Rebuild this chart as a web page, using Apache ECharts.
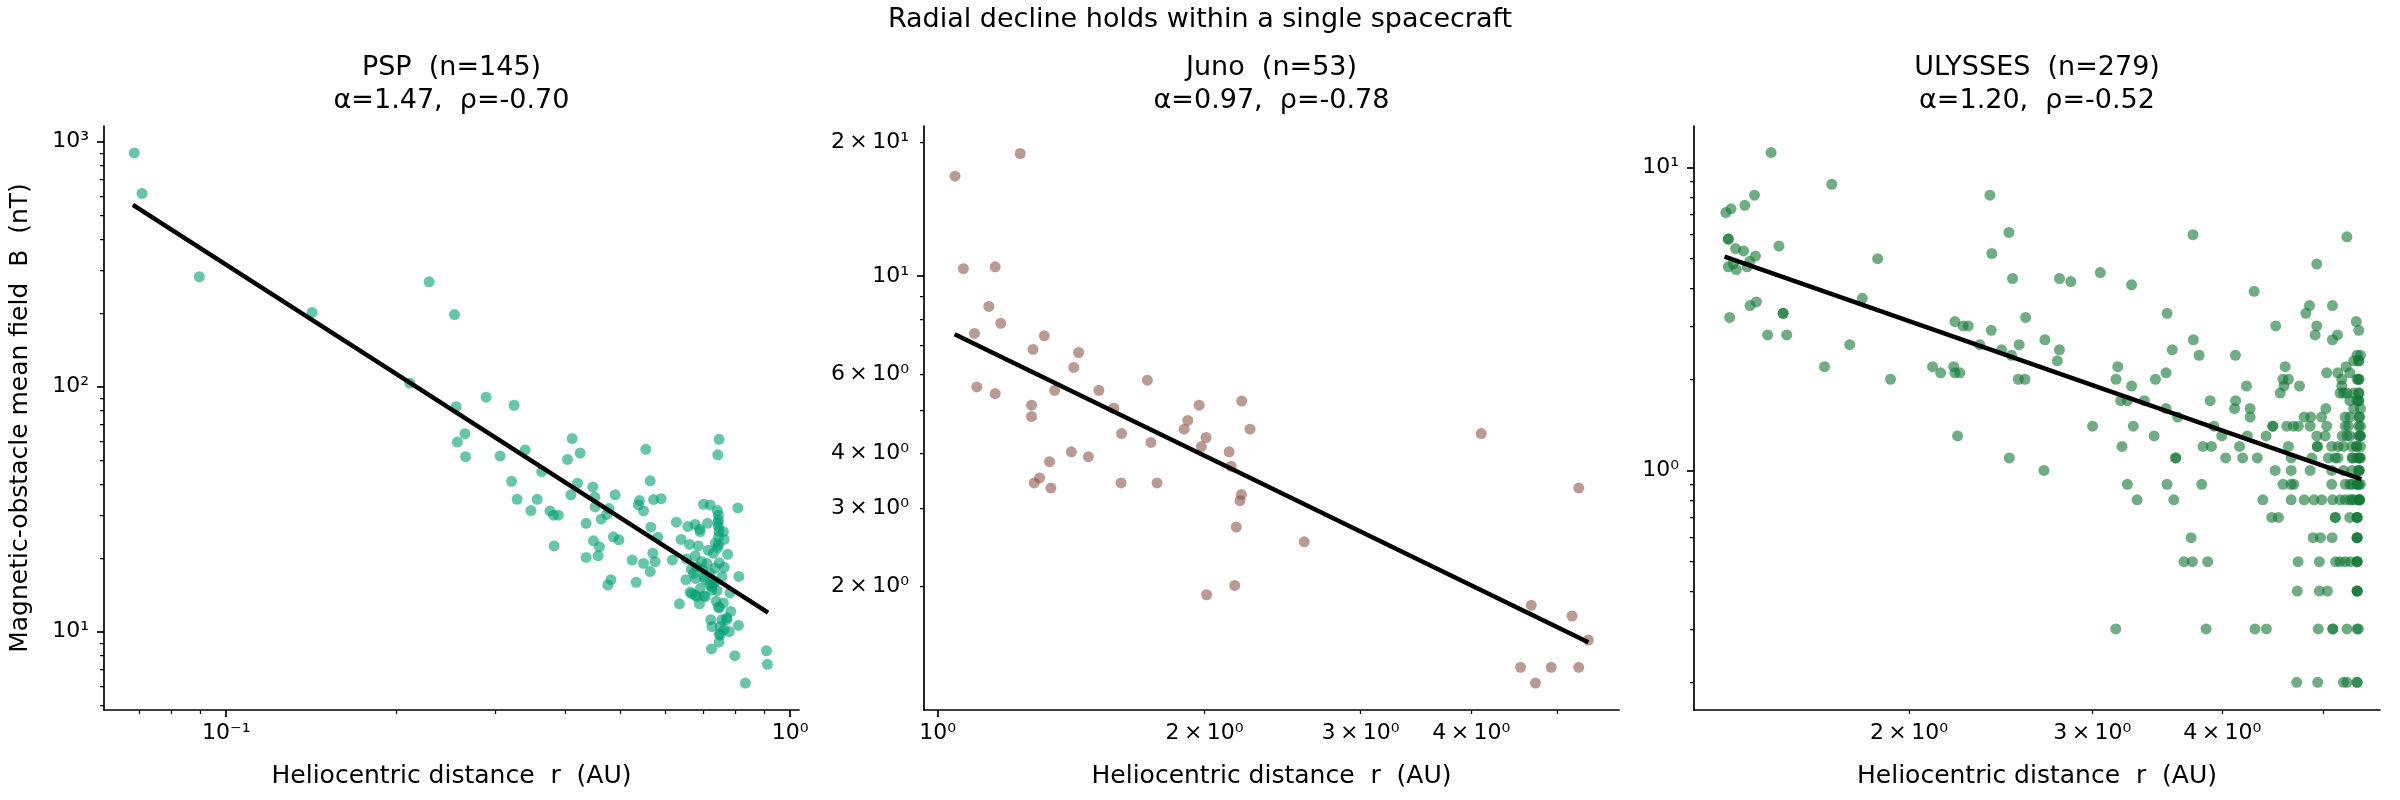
<!DOCTYPE html>
<html>
<head>
<meta charset="utf-8">
<script src="https://cdn.jsdelivr.net/npm/echarts@6/dist/echarts.min.js"></script>
<style>
  html, body { margin: 0; background: #fff; }
  #chart { width: 2400px; height: 800px; }
</style>
</head>
<body>
<div id="chart"></div>
<script>
// Radial decline of the magnetic-obstacle field, one log-log panel per spacecraft.
var SUPTITLE = "Radial decline holds within a single spacecraft";
var X_NAME = "Heliocentric distance  r  (AU)";
var Y_NAME = "Magnetic-obstacle mean field  B  (nT)";
var PANEL_NAMES = ["PSP  (n=145)", "Juno  (n=53)", "ULYSSES  (n=279)"];
var PANEL_STATS = ["\u03b1=1.47,  \u03c1=-0.70", "\u03b1=0.97,  \u03c1=-0.78", "\u03b1=1.20,  \u03c1=-0.52"];
var COLORS = ["#009e73", "#8c564b", "#117733"];

// [r (AU), B (nT)]
var pspPoints = [
  [0.0687,900],[0.0709,615],[0.0896,281],[0.142,201],[0.229,268],[0.254,197],[0.2117,103.5],[0.289,90.6],
  [0.2557,82.9],[0.324,84],[0.265,64.3],[0.257,59.4],[0.2657,51.8],[0.306,52.1],[0.339,55.2],[0.3627,45.0],
  [0.3207,41.1],[0.328,34.7],[0.356,34.7],[0.347,31.2],[0.375,31.1],[0.3806,29.9],[0.388,29.9],[0.3816,22.4],
  [0.4107,61.4],[0.4243,53.6],[0.403,50.5],[0.4197,40.4],[0.4085,36.2],[0.4468,39.0],[0.4504,35.4],[0.451,32.3],
  [0.4772,31.8],[0.473,30.1],[0.4624,28.8],[0.4348,27.7],[0.4895,36.2],[0.448,23.5],[0.459,22.2],[0.4348,20.1],
  [0.4566,20.4],[0.486,24.4],[0.497,23.7],[0.481,16.3],[0.475,15.5],
  [0.5333,15.9],[0.5246,19.6],[0.5495,19.0],[0.5648,17.6],[0.5762,19.3],[0.5709,20.9],[0.5547,55.5],[0.5648,41.3],
  [0.5405,34.3],[0.5383,32.9],[0.5495,31.1],[0.5725,34.6],[0.5904,34.9],[0.5662,26.7],[0.5824,24.3],
  [0.6183,19.6],[0.6285,28.0],[0.6408,23.8],[0.6364,13.0],[0.6533,16.3],[0.6586,26.9],[0.6631,22.7],[0.6786,27.4],
  [0.6877,22.4],[0.6786,20.4],[0.7021,33.1],[0.7214,32.9],[0.743,31.2],[0.7482,61.0],[0.7442,52.7],[0.8078,32.0],
  [0.7136,27.7],[0.7463,28.6],[0.7463,26.9],[0.7617,25.6],[0.7463,24.4],[0.764,23.8],[0.7463,22.6],[0.6925,25.6],
  [0.775,20.7],[0.731,20.9],[0.697,19.3],[0.749,19.1],[0.764,18.3],[0.736,18.2],[0.7214,17.3],[0.674,17.3],
  [0.683,18.4],[0.8112,16.8],[0.7068,16.3],[0.731,15.8],[0.6925,15.0],[0.6647,14.5],[0.679,14.1],[0.707,13.9],
  [0.7266,14.8],[0.7824,14.4],[0.6907,13.0],[0.7393,13.3],[0.7617,13.1],[0.749,12.5],[0.7847,12.1],[0.7233,11.2],
  [0.757,11.2],[0.7724,11.4],[0.7266,10.5],[0.7516,10.5],[0.8097,10.6],[0.78,10.0],[0.7516,9.69],[0.7482,9.06],
  [0.7254,8.50],[0.798,7.98],[0.908,8.36],[0.9116,7.36],[0.8333,6.17],
  [0.6913,26.2],[0.7037,16.8],[0.712,19.0],[0.7266,15.3],[0.7464,12.6],[0.7638,10.2],[0.749,9.8],[0.772,11.2],
  [0.683,13.9],[0.669,14.3],[0.746,29.9],[0.748,25.7],[0.744,22.0],[0.7442,27.8],
  [0.655,19.8],[0.668,18.0],[0.70,17.9],[0.736,16.0],[0.72,15.6],[0.742,14.7],[0.703,14.0],[0.68,16.5],
  [0.757,16.8],[0.716,21.5],[0.737,23.0]
];

var junoPoints = [
  [1.046,16.8],[1.239,18.9],[1.069,10.4],[1.161,10.5],[1.142,8.55],[1.178,7.83],[1.100,7.43],[1.319,7.34],
  [1.281,6.84],[1.442,6.73],[1.424,6.23],[1.724,5.83],[1.107,5.63],[1.161,5.44],[1.355,5.53],[1.520,5.53],
  [1.276,5.12],[1.276,4.83],[1.580,5.04],[1.972,5.12],[2.203,5.23],[1.915,4.73],[1.897,4.52],[2.251,4.52],
  [1.612,4.42],[2.008,4.33],[1.740,4.22],[1.984,4.13],[1.415,4.02],[2.132,4.02],[1.479,3.92],[1.337,3.82],
  [2.143,3.73],[1.303,3.51],[1.285,3.42],[1.342,3.33],[1.610,3.42],[1.768,3.42],[2.201,3.22],[2.193,3.12],
  [2.172,2.72],[2.591,2.52],[2.163,2.01],[2.011,1.915],[4.104,4.42],[5.287,3.33],[4.674,1.813],[5.196,1.715],
  [5.42,1.514],[4.546,1.314],[4.922,1.314],[5.287,1.314],[4.725,1.211]
];

var ulyssesPoints = [
  [1.474,11.2],[1.686,8.8],[1.421,8.1],[1.391,7.5],[1.349,7.3],[1.334,7.1],[1.341,5.8],[1.341,5.8],
  [1.500,5.5],[1.363,5.4],[1.387,5.3],[1.424,5.1],[1.406,4.9],[1.341,4.7],[1.365,4.6],[1.355,4.8],
  [1.398,4.7],[1.866,5.0],[1.804,3.7],[1.407,3.5],[1.427,3.6],[1.345,3.2],[1.514,3.3],[1.514,3.3],
  [1.463,2.8],[1.526,2.8],[1.754,2.6],[1.659,2.2],[1.920,2.0],[2.107,2.2],[2.145,2.1],[2.208,2.2],
  [2.214,2.1],[2.238,2.1],[2.214,3.1],[2.254,3.0],[2.280,3.0],[2.339,2.6],[2.455,2.5],[2.509,2.4],
  [2.552,2.6],[2.547,2.0],[2.585,2.0],[2.589,3.2],[2.399,2.9],[2.392,8.1],[2.495,6.1],[2.402,5.2],
  [2.515,4.3],[2.227,1.3],[2.497,1.1],
  [2.696,1.0],[2.702,2.7],[2.790,2.5],[2.777,2.3],[2.790,4.3],[2.861,4.2],[3.054,4.5],[3.273,4.1],
  [3.749,6.0],[3.540,3.3],[3.752,2.7],[3.581,2.5],[3.800,2.4],[4.118,2.4],[4.292,3.9],[4.502,3.0],
  [4.930,4.8],[5.270,5.9],[4.851,3.5],[4.812,3.3],[5.104,3.5],[4.930,3.0],[4.912,2.8],[5.161,2.8],
  [5.104,2.7],[5.38,3.1],[5.41,2.9],
  [3.174,2.2],[3.162,2.0],[3.273,1.9],[3.195,1.7],[3.242,1.7],[3.366,1.7],[3.45,2.0],[3.532,2.1],
  [3.532,1.6],[3.624,1.5],[3.285,1.4],[3.002,1.4],[3.44,1.3],[3.204,1.2],[3.608,1.1],[3.608,1.1],
  [3.242,0.9],[3.54,0.9],[3.822,0.9],[3.313,0.8],[3.593,0.8],[3.733,0.6],[3.675,0.5],[3.744,0.5],
  [3.873,0.5],[3.16,0.3],[3.859,0.3],
  [4.30,0.3],[4.41,0.3],[3.894,1.7],[4.12,1.7],[4.11,1.6],[4.22,1.9],[4.254,1.6],[4.254,1.5],
  [3.926,1.4],[3.833,1.2],[3.905,1.2],[4.156,1.2],[3.995,1.3],[4.228,1.3],[4.407,1.3],[4.03,1.1],
  [4.184,1.1],[4.322,1.1],[4.375,0.8],
  [4.597,2.2],[4.574,2.0],[4.63,2.0],[4.585,1.9],[4.546,1.8],[4.745,1.9],[4.794,1.5],[4.865,1.5],
  [4.983,1.5],[5.03,1.6],[4.473,1.4],[4.473,1.4],[4.613,1.4],[4.681,1.4],[4.733,1.4],[4.858,1.4],
  [5.04,1.4],[4.93,1.3],[5.023,1.3],[4.63,1.2],[4.936,1.2],[4.936,1.2],[4.658,1.1],[4.876,1.1],
  [5.058,1.1],[4.496,1.0],[4.658,1.0],[4.858,1.0],[4.574,0.9],[4.658,0.9],[4.686,0.9],[4.658,0.8],
  [4.794,0.8],[4.900,0.8],[4.983,0.8],[4.463,0.7],[4.529,0.7],[4.89,0.6],[4.97,0.6],[4.73,0.5],
  [4.958,0.5],[4.722,0.4],[4.958,0.4],[5.047,0.4],[4.716,0.2],[4.94,0.2],[4.946,0.3],[5.039,2.1],
  [5.164,2.1],[5.21,2.0],[5.26,2.2],[5.305,2.1],
  [5.23,0.2],[5.27,0.2],[5.39,0.2],[5.39,0.2],
  [5.108,0.3],[5.108,0.3],[5.27,0.3],[5.405,0.3],
  [5.391,0.4],[5.391,0.4],
  [5.14,0.5],[5.19,0.5],[5.25,0.5],[5.31,0.5],[5.39,0.5],[5.39,0.5],
  [5.10,0.6],[5.39,0.6],[5.39,0.6],
  [5.136,0.7],[5.136,0.7],[5.303,0.7],[5.39,0.7],[5.39,0.7],
  [5.106,0.8],[5.190,0.8],[5.25,0.8],[5.305,0.8],[5.36,0.8],[5.417,0.8],[5.417,0.8],[5.417,0.8],
  [5.096,0.9],[5.25,0.9],[5.305,0.9],[5.39,0.9],[5.39,0.9],[5.43,0.9],
  [5.096,1.0],[5.23,1.0],[5.33,1.0],[5.41,1.0],[5.41,1.0],
  [5.134,1.1],[5.167,1.1],[5.34,1.1],[5.39,1.1],[5.417,1.1],[5.417,1.1],
  [5.096,1.2],[5.167,1.2],[5.23,1.2],[5.385,1.2],[5.385,1.2],
  [5.215,1.3],[5.27,1.3],[5.305,1.3],[5.43,1.3],[5.43,1.3],
  [5.25,1.4],[5.286,1.4],[5.43,1.4],
  [5.25,1.5],[5.305,1.5],[5.417,1.5],[5.417,1.5],
  [5.35,1.6],[5.43,1.6],
  [5.305,1.7],[5.39,1.7],[5.41,1.7],[5.41,1.7],
  [5.19,1.8],[5.23,1.8],[5.27,1.8],[5.35,1.8],[5.41,1.8],[5.41,1.8],
  [5.21,1.9],
  [5.39,2.0],[5.41,2.0],[5.41,2.0],
  [5.35,2.3],[5.41,2.3],[5.41,2.3],
  [5.39,2.4],[5.43,2.4],
  [5.417,0.8],[5.417,1.0],[5.39,0.7],[5.39,0.5],[5.39,0.6],[5.43,1.1],[5.43,1.2],[5.41,0.9],
  [5.39,0.3],[5.41,1.4],[5.39,0.4],[5.41,1.3],[5.33,0.8],[5.33,0.9],[5.33,1.1],[5.33,1.2]
];

// power-law fit lines, end points at the sample's r range
var pspFit = [[0.0683, 552], [0.914, 11.96]];
var junoFit = [[1.045, 7.40], [5.42, 1.496]];
var ulyssesFit = [[1.330, 5.08], [5.44, 0.937]];

// axis extents [min, max]
var X_RANGES = [[0.0607, 1.037], [0.965, 5.87], [1.243, 5.67]];
var Y_RANGES = [[4.79, 1159], [1.053, 21.8], [0.162, 13.7]];

// tick positions: labelled, long (decade) ticks, short ticks
var X_LABELS = [[0.1, 1], [1, 2, 3, 4], [2, 3, 4]];
var X_MAJOR = [[0.1, 1], [1], []];
var X_MINOR = [
  [0.07, 0.08, 0.09, 0.2, 0.3, 0.4, 0.5, 0.6, 0.7, 0.8, 0.9],
  [2, 3, 4, 5],
  [2, 3, 4, 5]
];
var Y_LABELS = [[10, 100, 1000], [2, 3, 4, 6, 10, 20], [1, 10]];
var Y_MAJOR = [[10, 100, 1000], [10], [1, 10]];
var Y_MINOR = [
  [5, 6, 7, 8, 9, 20, 30, 40, 50, 60, 70, 80, 90, 200, 300, 400, 500, 600, 700, 800, 900],
  [2, 3, 4, 5, 6, 7, 8, 9, 20],
  [0.2, 0.3, 0.4, 0.5, 0.6, 0.7, 0.8, 0.9, 2, 3, 4, 5, 6, 7, 8, 9]
];

var FONT = "DejaVu Sans";
var GRIDS = [
  { left: 104, top: 126, width: 695, height: 584 },
  { left: 924, top: 126, width: 695, height: 584 },
  { left: 1694, top: 126, width: 686, height: 584 }
];

function sup(n) {
  var map = { "-": "\u207b", "0": "\u2070", "1": "\u00b9", "2": "\u00b2", "3": "\u00b3",
              "4": "\u2074", "5": "\u2075", "6": "\u2076", "7": "\u2077", "8": "\u2078", "9": "\u2079" };
  return String(n).split("").map(function (c) { return map[c]; }).join("");
}
function logLabel(v) {
  var e = Math.floor(Math.log10(v) + 1e-9);
  var m = Math.round(v / Math.pow(10, e));
  return (m === 1 ? "" : m + "\u2009\u00d7\u2009") + "10" + sup(e);
}

function mainAxis(i, range, labels, major, isX) {
  var ax = {
    type: "log", gridIndex: i, min: range[0], max: range[1],
    position: isX ? "bottom" : "left",
    axisLine: { show: true, onZero: false, lineStyle: { color: "#000", width: 1.7 } },
    axisTick: major.length ? { show: true, length: 7, customValues: major,
                               lineStyle: { color: "#000", width: 1.7 } } : { show: false },
    axisLabel: { customValues: labels, formatter: logLabel, fontSize: 22, color: "#000",
                 fontFamily: FONT, margin: isX ? 12 : 15 },
    splitLine: { show: false }
  };
  if (isX) {
    ax.name = X_NAME;
    ax.nameLocation = "middle";
    ax.nameGap = 54;
  } else if (i === 0) {
    ax.name = Y_NAME;
    ax.nameLocation = "middle";
    ax.nameGap = 71;
  }
  ax.nameTextStyle = { fontSize: 25, color: "#000", fontFamily: FONT };
  return ax;
}
function minorAxis(i, range, minor, isX) {
  return {
    type: "log", gridIndex: i, min: range[0], max: range[1],
    position: isX ? "bottom" : "left", offset: 0,
    axisLine: { show: false, onZero: false },
    axisTick: { show: true, length: 4, customValues: minor, lineStyle: { color: "#000", width: 1.25 } },
    axisLabel: { show: false },
    splitLine: { show: false }
  };
}

var xAxes = [], yAxes = [], graphics = [];
GRIDS.forEach(function (g, i) {
  xAxes.push(mainAxis(i, X_RANGES[i], X_LABELS[i], X_MAJOR[i], true));
  xAxes.push(minorAxis(i, X_RANGES[i], X_MINOR[i], true));
  yAxes.push(mainAxis(i, Y_RANGES[i], Y_LABELS[i], Y_MAJOR[i], false));
  yAxes.push(minorAxis(i, Y_RANGES[i], Y_MINOR[i], false));
  var cx = g.left + g.width / 2;
  graphics.push({ type: "text", x: cx, y: 68,
    style: { text: PANEL_NAMES[i], font: "27px '" + FONT + "'", fill: "#000", textAlign: "center", textVerticalAlign: "middle" } });
  graphics.push({ type: "text", x: cx, y: 101,
    style: { text: PANEL_STATS[i], font: "27px '" + FONT + "'", fill: "#000", textAlign: "center", textVerticalAlign: "middle" } });
});
graphics.push({ type: "text", x: 1200, y: 20,
  style: { text: SUPTITLE, font: "27px '" + FONT + "'", fill: "#000", textAlign: "center", textVerticalAlign: "middle" } });

var pointSets = [pspPoints, junoPoints, ulyssesPoints];
var fits = [pspFit, junoFit, ulyssesFit];
var series = [];
pointSets.forEach(function (pts, i) {
  series.push({
    type: "scatter", xAxisIndex: 2 * i, yAxisIndex: 2 * i, data: pts,
    symbolSize: 11, itemStyle: { color: COLORS[i], opacity: 0.6, borderWidth: 0 },
    silent: true, z: 2
  });
  series.push({
    type: "line", xAxisIndex: 2 * i, yAxisIndex: 2 * i, data: fits[i],
    symbol: "none", lineStyle: { color: "#000", width: 4.5 }, silent: true, z: 3
  });
});

var chart = echarts.init(document.getElementById("chart"), null, { renderer: "canvas" });
chart.setOption({
  animation: false,
  backgroundColor: "#fff",
  textStyle: { fontFamily: FONT },
  grid: GRIDS.map(function (g) { return Object.assign({ containLabel: false }, g); }),
  xAxis: xAxes,
  yAxis: yAxes,
  graphic: graphics,
  series: series
});
</script>
</body>
</html>
